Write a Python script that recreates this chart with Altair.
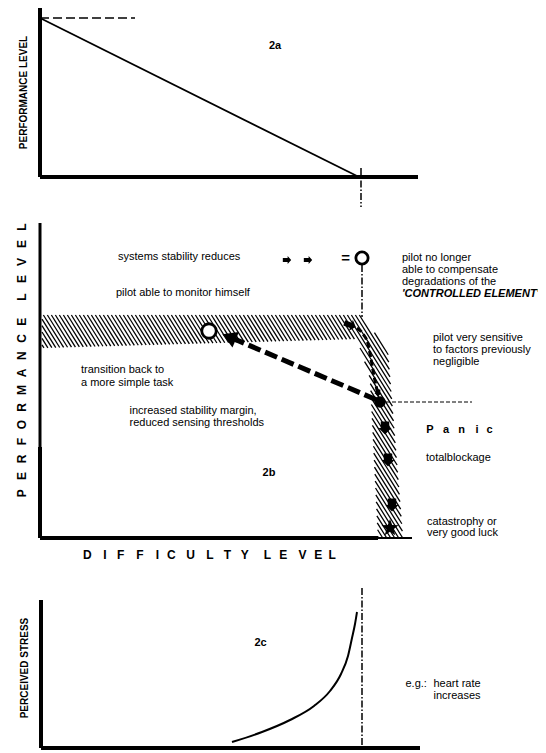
import altair as alt
import pandas as pd
import numpy as np

FONT = "Liberation Sans"

# ---------------- data (diagram units = page pixels) ----------------
# solid axis lines: x1, y1, x2, y2, width
axis_x1 = [40, 40, 40, 40, 40, 378, 41, 41]
axis_y1 = [5, 177, 223, 447, 538, 538, 600, 748]
axis_x2 = [40, 418, 40, 40, 378, 412, 41, 420]
axis_y2 = [177, 177, 447, 538, 538, 538, 748, 748]
axis_w = [4, 4, 3, 4, 4, 2, 4, 4]

# 2a: performance falls linearly with difficulty
perf_a_x = [40, 359]
perf_a_y = [18, 177]
# 2a: reference dashed level
ref_dash_x = [40, 135]
ref_dash_y = [18, 18]

# dash-dot critical difficulty markers
crit_x1 = [361, 362, 362]
crit_y1 = [168, 265, 588]
crit_x2 = [361, 362, 362]
crit_y2 = [207, 317, 745]

# 2b: thin dashed level from panic point
panic_dash_x = [386, 472]
panic_dash_y = [402, 402]

# 2b hatched band outline
band_x = [42, 362, 388, 403, 378, 370, 357, 42]
band_y = [315, 315, 352, 538, 538, 378, 339, 348]

# 2b big dashed arrow (back to simpler task)
back_x = [377, 232]
back_y = [400, 338]
# 2b small curved dashed arrow
curve_b_x = [357, 363, 368, 371, 374, 377]
curve_b_y = [328, 334, 344, 359, 376, 390]

# 2c perceived stress curve
stress_x = [232, 262, 290, 314, 330, 341, 348, 352, 355, 357]
stress_y = [742, 732, 720, 706, 691, 674, 656, 638, 624, 612]

# symbols
open_x = [362, 209]
open_y = [258, 331]
open_size = [150, 210]
dot_x = [380]
dot_y = [402]
rarrow_x = [287, 308, 350]
rarrow_y = [260, 260, 325]
rarrow_size = [70, 70, 150]
rarrow_angle = [0, 0, 20]
darrow_x = [385, 388, 392, 378]
darrow_y = [428, 460, 505, 393]
darrow_size = [170, 170, 170, 50]
star_x = [390]
star_y = [528]

# texts
reg_text = ["systems stability reduces", "pilot no longer", "able to compensate",
            "degradations of the", "pilot able to monitor himself",
            "pilot very sensitive", "to factors previously", "negligible",
            "transition back to", "a more simple task",
            "increased stability margin,", "reduced sensing thresholds",
            "totalblockage", "catastrophy or", "very good luck",
            "e.g.:", "heart rate", "increases"]
reg_x = [118, 402, 402, 402, 116, 433, 433, 433, 81, 81, 129.5, 129.5,
         426, 427, 427, 405.5, 433.5, 433.5]
reg_y = [257, 257.5, 269.5, 281.5, 293, 337.5, 349.5, 361.5, 370, 382.5,
         410.5, 422.5, 457.5, 521.5, 533, 684, 684, 696]

bi_text = ["'CONTROLLED ELEMENT'"]
bi_x = [402]
bi_y = [293.5]

bold_text = ["2a", "2b", "2c", "="]
bold_x = [275, 269, 260.5, 345.5]
bold_y = [46, 473, 643, 258]
bold_size = [11, 11, 11, 15]

rot_text = ["PERFORMANCE LEVEL", "PERCEIVED STRESS"]
rot_x = [24, 25]
rot_y = [92.5, 668]

# letter-spaced labels
diff_letters = list("DIFFICULTY") + list("LEVEL")
diff_x = [87.4, 104.9, 120.6, 139.9, 157.3, 171.3, 190.6, 209.8, 227.3, 244.8,
          267.5, 283.2, 302.4, 318.2, 332.2]
diff_y = [555] * 15

perf_letters = list("PERFORMANCE") + list("LEVEL")
perf_y = [493.3, 476.1, 458.9, 441.7, 424.5, 407.3, 390.1, 372.9, 355.7, 338.5, 321.7,
          297, 279, 262, 244, 227]
perf_x = [22] * 16

panic_letters = list("Panic")
panic_x = [430, 446, 461.5, 477, 489.5]
panic_y = [430] * 5

# ---------------- helpers ----------------
XS = alt.Scale(domain=[8, 538], nice=False, zero=False)
YS = alt.Scale(domain=[8, 753], nice=False, zero=False, reverse=True)


def X(f="x"):
    return alt.X(f"{f}:Q", scale=XS, axis=None)


def Y(f="y"):
    return alt.Y(f"{f}:Q", scale=YS, axis=None)


def hatch_segments(px, py, k=1.6, step=4.0):
    """diagonal hatch lines clipped to the band polygon"""
    pts = list(zip(px, py))
    f = [x - y / k for x, y in pts]
    segs = []
    for c in np.arange(min(f) + step / 2, max(f), step):
        ys = []
        n = len(pts)
        for i in range(n):
            (x1, y1), (x2, y2) = pts[i], pts[(i + 1) % n]
            a, b = f[i] - c, f[(i + 1) % n] - c
            if (a < 0) != (b < 0):
                t = a / (a - b)
                ys.append(y1 + t * (y2 - y1))
        ys.sort()
        for j in range(0, len(ys) - 1, 2):
            segs.append((c + ys[j] / k, ys[j], c + ys[j + 1] / k, ys[j + 1]))
    return pd.DataFrame(segs, columns=["x", "y", "x2", "y2"])


def star_path(n=5, inner=0.42):
    pts = []
    for i in range(2 * n):
        r = 1.0 if i % 2 == 0 else inner
        a = np.deg2rad(-90 + 180.0 / n * i)
        pts.append((r * np.cos(a), r * np.sin(a)))
    return "M" + "L".join(f"{x:.3f},{y:.3f}" for x, y in pts) + "Z"


layers = []

# hatching
hatch = hatch_segments(band_x, band_y)
layers.append(alt.Chart(hatch).mark_rule(color="black", strokeWidth=1.3).encode(
    x=X(), y=Y(), x2="x2:Q", y2="y2:Q"))

# axes
axes = pd.DataFrame({"x": axis_x1, "y": axis_y1, "x2": axis_x2, "y2": axis_y2, "w": axis_w})
layers.append(alt.Chart(axes).mark_rule(color="black", strokeCap="butt").encode(
    x=X(), y=Y(), x2="x2:Q", y2="y2:Q",
    strokeWidth=alt.StrokeWidth("w:Q", scale=None)))

# 2a line
layers.append(alt.Chart(pd.DataFrame({"x": perf_a_x, "y": perf_a_y})).mark_line(
    color="black", strokeWidth=1.8).encode(x=X(), y=Y()))
layers.append(alt.Chart(pd.DataFrame({"x": ref_dash_x, "y": ref_dash_y})).mark_line(
    color="black", strokeWidth=1.5, strokeDash=[9, 4]).encode(x=X(), y=Y()))

# dash-dot markers
crit = pd.DataFrame({"x": crit_x1, "y": crit_y1, "x2": crit_x2, "y2": crit_y2})
layers.append(alt.Chart(crit).mark_rule(color="black", strokeWidth=1.5,
                                         strokeDash=[7, 2, 1.5, 2]).encode(
    x=X(), y=Y(), x2="x2:Q", y2="y2:Q"))

layers.append(alt.Chart(pd.DataFrame({"x": panic_dash_x, "y": panic_dash_y})).mark_line(
    color="black", strokeWidth=1, strokeDash=[4, 2]).encode(x=X(), y=Y()))

# big dashed arrow
layers.append(alt.Chart(pd.DataFrame({"x": back_x, "y": back_y})).mark_line(
    color="black", strokeWidth=5, strokeDash=[13, 5], strokeCap="butt").encode(x=X(), y=Y()))
layers.append(alt.Chart(pd.DataFrame({"x": [229], "y": [337]})).mark_point(
    shape="triangle-right", filled=True, color="black", opacity=1, size=280, angle=202.5).encode(
    x=X(), y=Y()))

# small curved arrow
cb = pd.DataFrame({"x": curve_b_x, "y": curve_b_y, "o": range(len(curve_b_x))})
layers.append(alt.Chart(cb).mark_line(color="black", strokeWidth=3, strokeDash=[6, 3],
                                      strokeCap="butt", interpolate="monotone").encode(
    x=X(), y=Y(), order="o:Q"))

# 2c curve
sc = pd.DataFrame({"x": stress_x, "y": stress_y, "o": range(len(stress_x))})
layers.append(alt.Chart(sc).mark_line(color="black", strokeWidth=2,
                                      interpolate="monotone").encode(
    x=X(), y=Y(), order="o:Q"))

# symbols
oc = pd.DataFrame({"x": open_x, "y": open_y, "s": open_size})
layers.append(alt.Chart(oc).mark_point(shape="circle", filled=False, color="black",
                                       strokeWidth=2.8, opacity=1, fill="white").encode(
    x=X(), y=Y(), size=alt.Size("s:Q", scale=None)))
layers.append(alt.Chart(pd.DataFrame({"x": dot_x, "y": dot_y})).mark_point(
    shape="circle", filled=True, color="black", opacity=1, size=130).encode(x=X(), y=Y()))

RARROW = "M-1,-0.45L0.15,-0.45L0.15,-0.95L1,0L0.15,0.95L0.15,0.45L-1,0.45Z"
DARROW = "M-0.65,-1L0.65,-1L0.65,0L1,0L0,1L-1,0L-0.65,0Z"
ra = pd.DataFrame({"x": rarrow_x, "y": rarrow_y, "s": rarrow_size, "a": rarrow_angle})
layers.append(alt.Chart(ra).mark_point(shape=RARROW, filled=True, color="black", opacity=1).encode(
    x=X(), y=Y(), size=alt.Size("s:Q", scale=None), angle=alt.Angle("a:Q", scale=None)))
da = pd.DataFrame({"x": darrow_x, "y": darrow_y, "s": darrow_size})
layers.append(alt.Chart(da).mark_point(shape=DARROW, filled=True, color="black", opacity=1).encode(
    x=X(), y=Y(), size=alt.Size("s:Q", scale=None)))
layers.append(alt.Chart(pd.DataFrame({"x": star_x, "y": star_y})).mark_point(
    shape=star_path(), filled=True, color="black", opacity=1, size=320).encode(x=X(), y=Y()))

# texts
rt = pd.DataFrame({"t": reg_text, "x": reg_x, "y": reg_y})
layers.append(alt.Chart(rt).mark_text(font=FONT, fontSize=11, align="left", baseline="middle",
                                      color="black").encode(x=X(), y=Y(), text="t:N"))
bt = pd.DataFrame({"t": bi_text, "x": bi_x, "y": bi_y})
layers.append(alt.Chart(bt).mark_text(font=FONT, fontSize=11, align="left", baseline="middle",
                                      fontWeight="bold", fontStyle="italic",
                                      color="black").encode(x=X(), y=Y(), text="t:N"))
bd = pd.DataFrame({"t": bold_text, "x": bold_x, "y": bold_y, "s": bold_size})
layers.append(alt.Chart(bd).mark_text(font=FONT, align="center", baseline="middle",
                                      fontWeight="bold", color="black").encode(
    x=X(), y=Y(), text="t:N", size=alt.Size("s:Q", scale=None)))
ro = pd.DataFrame({"t": rot_text, "x": rot_x, "y": rot_y})
layers.append(alt.Chart(ro).mark_text(font=FONT, fontSize=10, fontWeight="bold", align="center",
                                      baseline="middle", angle=270, color="black").encode(
    x=X(), y=Y(), text="t:N"))

dl = pd.DataFrame({"t": diff_letters, "x": diff_x, "y": diff_y})
layers.append(alt.Chart(dl).mark_text(font=FONT, fontSize=12, fontWeight="bold", align="center",
                                      baseline="middle", color="black").encode(
    x=X(), y=Y(), text="t:N"))
pl = pd.DataFrame({"t": perf_letters, "x": perf_x, "y": perf_y})
layers.append(alt.Chart(pl).mark_text(font=FONT, fontSize=12, fontWeight="bold", align="center",
                                      baseline="middle", angle=270, color="black").encode(
    x=X(), y=Y(), text="t:N"))
pn = pd.DataFrame({"t": panic_letters, "x": panic_x, "y": panic_y})
layers.append(alt.Chart(pn).mark_text(font=FONT, fontSize=11, fontWeight="bold", align="center",
                                      baseline="middle", color="black").encode(
    x=X(), y=Y(), text="t:N"))

chart = alt.layer(*layers).properties(
    width=530, height=745, padding=0,
    autosize=alt.AutoSizeParams(type="none"),
    background="white",
).configure_view(strokeWidth=0)

chart.save("out.html", embed_options={"renderer": "svg", "actions": False})
